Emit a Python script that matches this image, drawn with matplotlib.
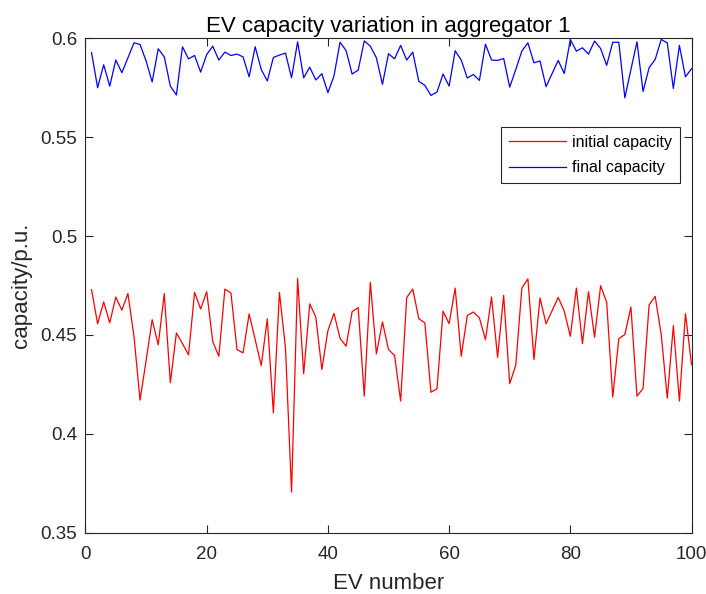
import numpy as np
import matplotlib
matplotlib.use("Agg")
from matplotlib import pyplot as plt

plt.rcParams['font.family'] = ['Liberation Sans', 'DejaVu Sans']

ev_number = np.arange(1, 101)

initial_capacity = [
    0.4729, 0.4556, 0.4667, 0.4561, 0.4692, 0.4625, 0.4709, 0.4493, 0.4170, 0.4370,
    0.4577, 0.4450, 0.4709, 0.4258, 0.4510, 0.4456, 0.4399, 0.4715, 0.4631, 0.4719,
    0.4466, 0.4392, 0.4732, 0.4712, 0.4426, 0.4409, 0.4606, 0.4476, 0.4345, 0.4581,
    0.4106, 0.4715, 0.4434, 0.3705, 0.4786, 0.4303, 0.4657, 0.4591, 0.4325, 0.4522,
    0.4609, 0.4483, 0.4443, 0.4618, 0.4638, 0.4190, 0.4766, 0.4404, 0.4566, 0.4426,
    0.4396, 0.4165, 0.4689, 0.4732, 0.4582, 0.4561, 0.4210, 0.4227, 0.4620, 0.4557,
    0.4737, 0.4392, 0.4598, 0.4616, 0.4586, 0.4476, 0.4692, 0.4387, 0.4700, 0.4253,
    0.4347, 0.4737, 0.4783, 0.4375, 0.4687, 0.4556, 0.4623, 0.4690, 0.4620, 0.4493,
    0.4737, 0.4456, 0.4719, 0.4488, 0.4749, 0.4665, 0.4185, 0.4481, 0.4502, 0.4641,
    0.4190, 0.4229, 0.4652, 0.4695, 0.4502, 0.4180, 0.4547, 0.4165, 0.4608, 0.4350,
]

final_capacity = [
    0.5928, 0.5751, 0.5867, 0.5759, 0.5891, 0.5827, 0.5902, 0.5978, 0.5970, 0.5886,
    0.5780, 0.5948, 0.5907, 0.5759, 0.5714, 0.5958, 0.5897, 0.5914, 0.5830, 0.5919,
    0.5961, 0.5891, 0.5931, 0.5914, 0.5921, 0.5907, 0.5806, 0.5958, 0.5843, 0.5785,
    0.5904, 0.5916, 0.5926, 0.5801, 0.5983, 0.5801, 0.5855, 0.5790, 0.5822, 0.5726,
    0.5810, 0.5981, 0.5939, 0.5820, 0.5840, 0.5988, 0.5961, 0.5902, 0.5768, 0.5923,
    0.5897, 0.5965, 0.5891, 0.5931, 0.5783, 0.5763, 0.5712, 0.5729, 0.5820, 0.5759,
    0.5938, 0.5891, 0.5800, 0.5818, 0.5788, 0.5971, 0.5891, 0.5889, 0.5899, 0.5754,
    0.5843, 0.5936, 0.5978, 0.5877, 0.5886, 0.5756, 0.5823, 0.5889, 0.5823, 0.5995,
    0.5936, 0.5953, 0.5921, 0.5987, 0.5949, 0.5864, 0.5981, 0.5981, 0.5700, 0.5843,
    0.5983, 0.5732, 0.5852, 0.5894, 0.5995, 0.5978, 0.5747, 0.5965, 0.5806, 0.5847,
]

axis_color = (0.15, 0.15, 0.15)

fig = plt.figure(figsize=(7.06, 5.94), dpi=100)
ax = fig.add_axes([0.1211, 0.1035, 0.8584, 0.8317])

ax.plot(ev_number, initial_capacity, color='red', lw=0.9, label='initial capacity')
ax.plot(ev_number, final_capacity, color='blue', lw=0.9, label='final capacity')

ax.set_xlim(0, 100)
ax.set_ylim(0.35, 0.6)
ax.set_xticks([0, 20, 40, 60, 80, 100])
ax.set_yticks([0.35, 0.4, 0.45, 0.5, 0.55, 0.6])
ax.set_yticklabels(['0.35', '0.4', '0.45', '0.5', '0.55', '0.6'])

ax.tick_params(direction='in', length=6, width=0.8, top=True, right=True,
               labelsize=13.5, colors=axis_color)
ax.tick_params(axis='x', pad=10)
ax.tick_params(axis='y', pad=6)
for sp in ax.spines.values():
    sp.set_color(axis_color)
    sp.set_linewidth(0.8)

ax.set_title('EV capacity variation in aggregator 1', fontsize=16, color='black', pad=5)
ax.set_xlabel('EV number', fontsize=16, color=axis_color, labelpad=7)
ax.set_ylabel('capacity/p.u.', fontsize=16, color=axis_color, labelpad=6)

leg = ax.legend(loc='upper right', bbox_to_anchor=(0.981, 0.821), borderaxespad=0,
                fontsize=11.5, fancybox=False, framealpha=1, handlelength=3.6,
                handletextpad=0.35, borderpad=0.5, labelspacing=0.65)
leg.get_frame().set_edgecolor(axis_color)
leg.get_frame().set_linewidth(0.8)

plt.savefig('out.png', dpi=100)
plt.close()
